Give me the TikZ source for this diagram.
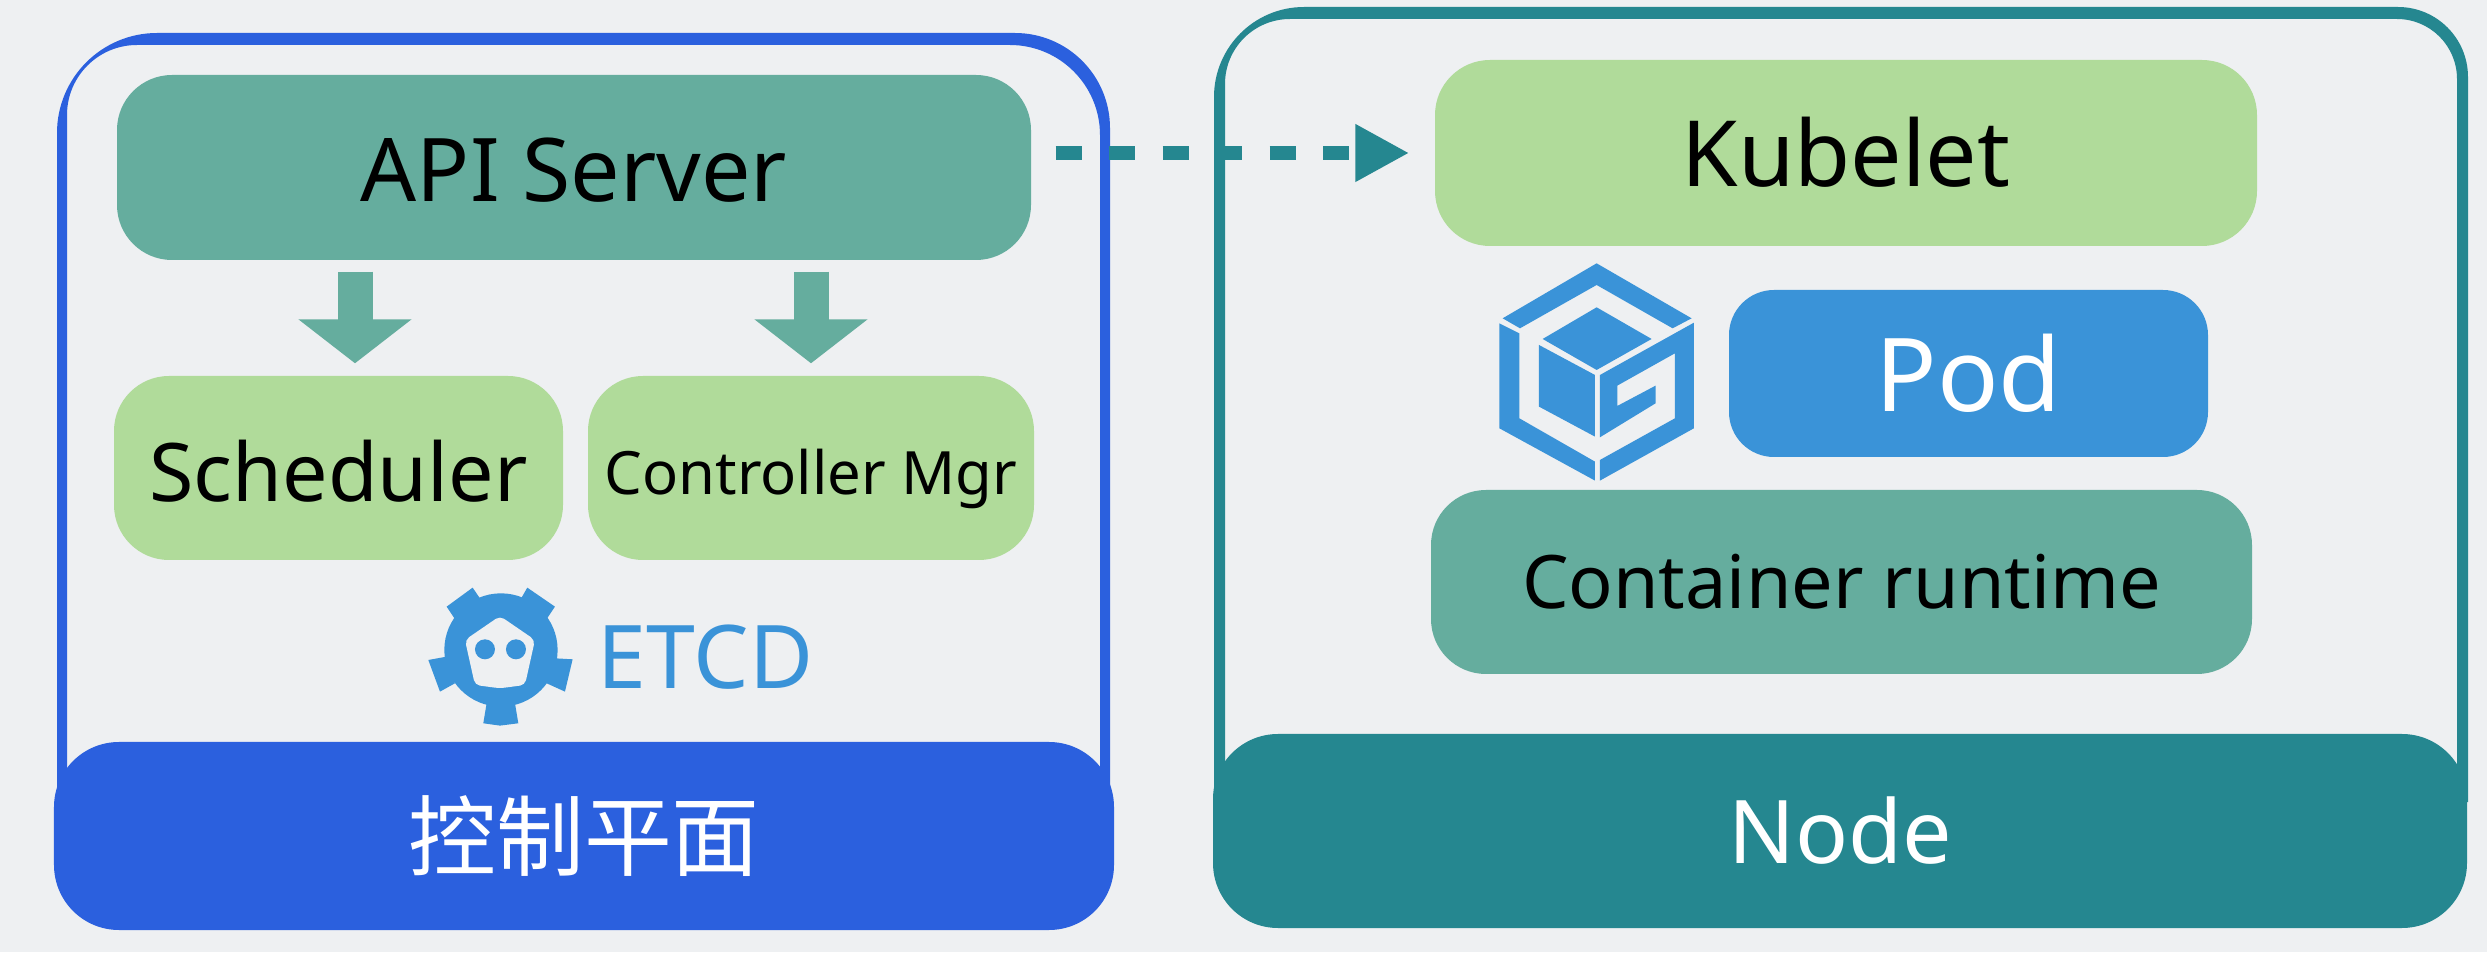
\documentclass[tikz,border=0pt]{standalone}
\usepackage{fontspec}
\setmainfont{Noto Sans}
\newfontfamily\cjk{Noto Sans CJK SC}
\usepackage{tikz}
\usetikzlibrary{arrows.meta}
\definecolor{pagegray}{HTML}{EEF0F2}
\definecolor{ctrlblue}{HTML}{2B60DE}
\definecolor{nodeteal}{HTML}{258790}
\definecolor{apigreen}{HTML}{65AD9E}
\definecolor{lightgreen}{HTML}{B0DB9A}
\definecolor{logoblue}{HTML}{3A93D8}
\tikzset{
  banner/.style={rounded corners=6.5mm,inner sep=0pt,text=white,font=\fontsize{25}{30}\selectfont},
  compbox/.style={rounded corners=5.5mm,inner sep=0pt,text=black,minimum height=18.4mm,text depth=0pt},
  blockarrow/.style={draw=apigreen,line width=3.5mm,-{Triangle[length=4.4mm,width=11.1mm]},shorten <=1.1mm,shorten >=1.2mm},
}
\begin{document}
\begin{tikzpicture}
\useasboundingbox (0,0) rectangle (24.87,9.52);
\fill[pagegray] (0,0) rectangle (24.87,9.52);
% frames and their bottom bars
\fill[ctrlblue,even odd rule] (0.57,1.5) [rounded corners=10mm] -- (0.57,9.19) [rounded corners=9.5mm] -- (11.10,9.19) [sharp corners] -- (11.10,1.5) -- cycle
  (0.67,1.5) [rounded corners=7mm] -- (0.67,9.07) [rounded corners=9mm] -- (11.00,9.07) [sharp corners] -- (11.00,1.5) -- cycle;
\fill[nodeteal,even odd rule] (12.14,1.5) [rounded corners=9mm] -- (12.14,9.45) [rounded corners=7mm] -- (24.68,9.45) [sharp corners] -- (24.68,1.5) -- cycle
  (12.25,1.5) [rounded corners=6.5mm] -- (12.25,9.33) [rounded corners=6mm] -- (24.57,9.33) [sharp corners] -- (24.57,1.5) -- cycle;
\node[banner,fill=ctrlblue,minimum width=106mm,minimum height=18.8mm] (ctrlbar) at (5.84,1.16) {\cjk 控制平面};
\node[banner,fill=nodeteal,minimum width=125.4mm,minimum height=19.4mm] (nodebar) at (18.40,1.21) {Node};
% control plane parts
\node[compbox,fill=apigreen,minimum width=91.4mm,minimum height=18.5mm,font=\fontsize{25}{30}\selectfont,text height=6.8mm] (api) at (5.74,7.845) {API Server};
\node[compbox,fill=lightgreen,minimum width=44.9mm,font=\fontsize{23}{28}\selectfont,text height=6.8mm] (sched) at (3.385,4.84) {Scheduler};
\node[compbox,fill=lightgreen,minimum width=44.6mm,font=\fontsize{17}{21}\selectfont,text height=5.3mm] (ctlmgr) at (8.11,4.84) {Controller Mgr};
\node[anchor=west,inner sep=0pt,text=logoblue,font=\fontsize{25}{30}\selectfont] (etcd) at (5.97,2.95) {ETCD};
\coordinate (schedin) at (3.55,6);
\draw[blockarrow] (api.south -| schedin) -- (sched.north -| schedin);
\draw[blockarrow] (api.south -| ctlmgr.north) -- (ctlmgr.north);
% etcd logo
\begin{scope}[shift={(4,3.92)},x=0.03333mm,y=-0.03333mm]
\fill[logoblue] (303,270) circle (170);
\fill[logoblue] (140,140) -- (218,83) -- (250,130) -- (170,185) -- cycle;
\fill[logoblue] (382,83) -- (465,140) -- (435,185) -- (355,130) -- cycle;
\fill[logoblue] (518,298) -- (495,395) -- (440,370) -- (465,295) -- cycle;
\fill[logoblue] (345,430) -- (355,490) -- (300,497) -- (250,490) -- (260,430) -- cycle;
\fill[logoblue] (85,300) -- (120,395) -- (165,370) -- (140,290) -- cycle;
\fill[pagegray,rounded corners=0.5mm] (300,168) -- (405,240) -- (375,375) -- (300,385) -- (225,375) -- (195,240) -- cycle;
\fill[logoblue] (255,268) circle (30) (348,268) circle (30);
\end{scope}
% node parts
\node[compbox,fill=lightgreen,minimum width=82.2mm,minimum height=18.6mm,font=\fontsize{26}{31}\selectfont,text height=6.7mm] (kubelet) at (18.46,7.99) {Kubelet};
\node[compbox,fill=logoblue,text=white,minimum width=47.9mm,minimum height=16.7mm,rounded corners=4.5mm,font=\fontsize{29}{35}\selectfont,text height=7.7mm] (pod) at (19.685,5.785) {Pod};
\node[compbox,fill=apigreen,minimum width=82.1mm,font=\fontsize{21}{25}\selectfont,text height=5.3mm] (runtime) at (18.415,3.70) {Container runtime};
% pod logo
\begin{scope}[shift={(14.7,7.12)},x=0.03333mm,y=-0.03333mm]
\fill[logoblue] (98,235) -- (380,70) -- (665,235) -- (608,265) -- (380,135) -- (150,265) -- cycle;
\fill[logoblue] (88,250) -- (148,280) -- (148,535) -- (375,665) -- (375,722) -- (88,565) -- cycle;
\fill[logoblue] (390,405) -- (672,248) -- (672,565) -- (390,722) -- (390,660) -- (615,535) -- (615,340) -- (442,437) -- (442,498)
  -- (557,437) -- (557,490) -- (390,592) -- cycle;
\fill[logoblue] (380,202) -- (545,297) -- (380,390) -- (218,297) -- cycle;
\fill[logoblue] (207,315) -- (375,405) -- (375,590) -- (207,500) -- cycle;
\end{scope}
% link
\draw[nodeteal,line width=1.4mm,dash pattern=on 2.6mm off 2.75mm,-{Triangle[length=5.4mm,width=5.4mm]},shorten <=2.4mm,shorten >=2.5mm]
  (api.east |- kubelet.west) -- (kubelet.west);
\end{tikzpicture}
\end{document}
